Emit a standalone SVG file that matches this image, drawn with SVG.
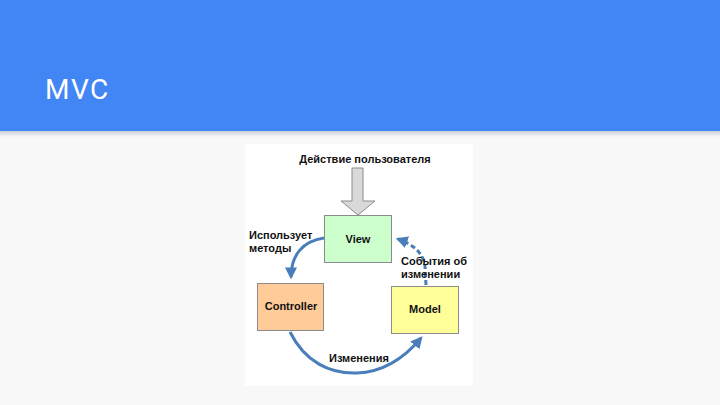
<svg xmlns="http://www.w3.org/2000/svg" width="720" height="405" viewBox="0 0 720 405">
<defs>
<linearGradient id="sh" x1="0" y1="0" x2="0" y2="1">
<stop offset="0" stop-color="#c9cfd9"/>
<stop offset="1" stop-color="#f8f8f8"/>
</linearGradient>
<marker id="ah" viewBox="0 0 10 10" refX="8" refY="5" markerWidth="4" markerHeight="4" orient="auto" markerUnits="strokeWidth">
<path d="M0,0 L10,5 L0,10 z" fill="#4a7ebb"/>
</marker>
</defs>
<style>
.box{stroke:#8c8c8c;stroke-width:1}
.lbl{font-family:"Liberation Sans",Arial,sans-serif;font-size:11px;font-weight:bold;fill:#111}
.nl{font-family:"Liberation Sans",Arial,sans-serif;font-size:11px;font-weight:bold;fill:#111;text-anchor:middle}
.con{fill:none;stroke:#4a7ebb;stroke-width:3}
</style>
<rect x="0" y="0" width="720" height="405" fill="#f8f8f8"/>
<rect x="0" y="131" width="720" height="6" fill="url(#sh)"/>
<rect x="0" y="0" width="720" height="131" fill="#4285f4"/>
<text x="45" y="99" font-family="Roboto,'Liberation Sans',sans-serif" font-size="28" fill="#ffffff" letter-spacing="1.5">MVC</text>
<rect x="245" y="144" width="228" height="242" fill="#ffffff"/>
<g id="user-action">
<path d="M352,168 L363,168 L363,201 L375,201 L358,215 L341,201 L352,201 z" fill="#d9d9d9" stroke="#8c8c8c" stroke-width="1"/>
<text class="nl" x="365" y="163">Действие пользователя</text>
</g>
<g id="view">
<rect class="box" x="324.5" y="215.5" width="67" height="47" fill="#ccffcc"/>
<text class="nl" x="358" y="243">View</text>
</g>
<g id="controller">
<rect class="box" x="257.5" y="283.5" width="66" height="47" fill="#ffcc99"/>
<text class="nl" x="291" y="310">Controller</text>
</g>
<g id="model">
<rect class="box" x="391.5" y="286.5" width="67" height="47" fill="#ffff99"/>
<text class="nl" x="425" y="313">Model</text>
</g>
<g id="connectors">
<path class="con" d="M324,238 C303,241 291,255 291,277" marker-end="url(#ah)"/>
<path class="con" d="M426,285 L425,266 C423,252 412,244 398,239" stroke-dasharray="5,3" marker-end="url(#ah)"/>
<path class="con" d="M290,332 C305,362 330,374 357,373 C385,372 406,356 421,338" marker-end="url(#ah)"/>
<text class="lbl" x="249" y="239">Использует</text>
<text class="lbl" x="249" y="252">методы</text>
<text class="lbl" x="401" y="265">События об</text>
<text class="lbl" x="401" y="278">изменении</text>
<text class="lbl" x="329" y="362">Изменения</text>
</g>
</svg>
